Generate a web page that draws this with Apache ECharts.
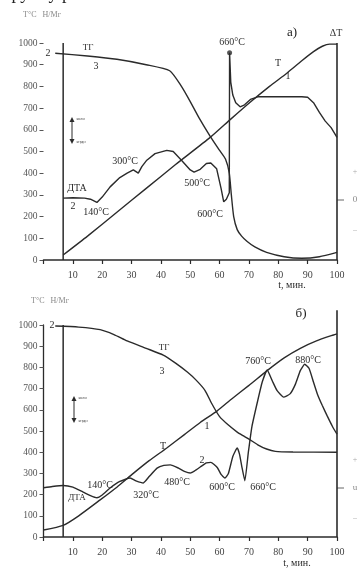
<!DOCTYPE html>
<html>
<head>
<meta charset="utf-8">
<script src="https://cdn.jsdelivr.net/npm/echarts@6/dist/echarts.min.js"></script>
<style>
html, body { margin: 0; padding: 0; background: #fff; }
#chart { width: 361px; height: 568px; }
</style>
</head>
<body>
<div id="chart"></div>
<script>
// ============================================
// ДТА / ТГ кривые, два образца (а, б)
// ============================================

const timeTicks = [10, 20, 30, 40, 50, 60, 70, 80, 90, 100];
const tempTicks = [0, 100, 200, 300, 400, 500, 600, 700, 800, 900, 1000];

// panel a) — [t, value]
const tempA = [[6.7, 23], [15, 110], [25, 220], [35, 330], [45, 440], [56.8, 565], [63.7, 648], [70.5, 728], [77, 800], [83, 862], [88, 918], [92, 960], [95, 985], [97.5, 995], [100, 995]];
const tgA = [[4, 953], [15, 940], [25, 925], [35, 900], [43, 872], [47, 800], [50, 730], [53, 655], [56.8, 570], [60, 505], [62, 465], [63.3, 400], [64, 300], [64.8, 200], [66, 140], [67.5, 110], [69.4, 85], [72, 60], [76, 35], [82, 15], [88, 8], [94, 15], [100, 35]];
const dtaA = [[6.7, 285], [10, 287], [14, 285], [16, 280], [18.2, 265], [20, 290], [22.7, 337], [26, 380], [28.5, 400], [30.6, 415], [32.3, 400], [33.5, 430], [35.2, 460], [38, 490], [42, 505], [44.2, 500], [47, 460], [50, 415], [51.3, 405], [53.4, 418], [55.5, 445], [57, 447], [59, 420], [60.5, 330], [61.4, 268], [62.3, 280], [63.3, 310], [63.4, 955], [63.8, 820], [64.5, 760], [65.5, 725], [67, 706], [68.5, 715], [70.5, 740], [73, 752], [80, 752], [88, 752], [90, 750], [92, 725], [94, 680], [96, 640], [98, 610], [100, 565]];
const frameA = [[6.7, 0], [6.7, 1000]];
const rightA = [[100, 0], [100, 1000]];

// panel б)
const tempB = [[0, 33], [6.7, 55], [12, 100], [19.3, 175], [25, 235], [30.6, 300], [36, 360], [42, 420], [48, 483], [53.4, 540], [59.2, 595], [64, 650], [70, 715], [76.2, 785], [82, 845], [87.5, 890], [93, 925], [98.8, 953], [100, 958]];
const tgB = [[4, 995], [12, 990], [19.3, 978], [24, 955], [28.5, 925], [35, 890], [40.8, 858], [45, 820], [49, 778], [52, 740], [55, 692], [57.5, 625], [60, 568], [63, 528], [66, 495], [68, 478], [70, 462], [73, 435], [76, 415], [79, 404], [85, 401], [100, 400]];
const dtaB = [[0, 232], [3, 238], [6.7, 243], [10, 235], [13.5, 212], [16, 195], [18.2, 185], [20, 198], [22.7, 231], [26, 262], [29.5, 278], [31.5, 265], [34, 255], [36, 285], [38.7, 325], [41, 338], [43.2, 340], [46, 325], [48, 310], [50, 302], [51.5, 312], [53.4, 330], [55.5, 350], [57, 352], [59.2, 328], [60.5, 295], [61.8, 278], [63, 300], [64.5, 380], [66, 420], [66.8, 390], [67.6, 330], [68.6, 265], [69.8, 400], [71, 520], [72.8, 632], [74.5, 730], [76.2, 788], [78, 735], [79.6, 690], [81.8, 660], [84, 675], [85.8, 720], [87.5, 785], [89, 815], [90.5, 795], [92, 730], [93.3, 675], [95, 620], [96.7, 570], [98.5, 520], [100, 485]];
const frameB = [[6.7, 0], [6.7, 1000]];
const rightB = [[100, 0], [100, 1070]];

const INK = '#2b2b2b';
const SERIF = 'Liberation Serif';

function curve(data, idx, extra) {
    return Object.assign({
        type: 'line', data: data, xAxisIndex: idx, yAxisIndex: idx,
        showSymbol: false, clip: false, animation: false,
        lineStyle: { color: INK, width: 1.4 }
    }, extra || {});
}

function xAxisCfg(idx) {
    return {
        type: 'value', gridIndex: idx, min: 0, max: 100, interval: 10,
        axisLine: { lineStyle: { color: INK, width: 1.5 } },
        axisTick: { length: 4, lineStyle: { color: INK, width: 1.2 } },
        splitLine: { show: false },
        axisLabel: {
            color: '#444', fontFamily: SERIF, fontSize: 10, margin: 10,
            formatter: v => timeTicks.includes(v) ? String(v) : ''
        }
    };
}

function yAxisCfg(idx, showLine) {
    return {
        type: 'value', gridIndex: idx, min: tempTicks[0], max: tempTicks[tempTicks.length - 1], interval: 100,
        axisLine: { show: showLine, lineStyle: { color: INK, width: 1.3 } },
        axisTick: { length: 4, lineStyle: { color: '#555' } },
        splitLine: { show: false },
        axisLabel: { color: '#555', fontFamily: SERIF, fontSize: 9.5, margin: 6, formatter: v => String(v) }
    };
}

function txt(x, y, text, size, color, align) {
    return {
        type: 'text', x: x, y: y, silent: true,
        style: { text: text, fill: color || INK, font: (size || 11) + 'px "' + SERIF + '"', textAlign: align || 'center', textVerticalAlign: 'middle' }
    };
}

function arrows(x, y1, y2) {
    return [
        { type: 'line', shape: { x1: x, y1: y1 + 4, x2: x, y2: y2 - 4 }, style: { stroke: INK, lineWidth: 1 } },
        { type: 'polygon', shape: { points: [[x - 2.5, y1 + 5], [x + 2.5, y1 + 5], [x, y1]] }, style: { fill: INK } },
        { type: 'polygon', shape: { points: [[x - 2.5, y2 - 5], [x + 2.5, y2 - 5], [x, y2]] }, style: { fill: INK } },
        txt(x + 4, y1 + 2, 'экзо', 5, '#444', 'left'),
        txt(x + 4, y2 - 2, 'эндо', 5, '#444', 'left')
    ];
}

function sideMarks(x, yMid, mid) {
    return [
        txt(x, yMid - 28, '+', 8, '#aaa'),
        { type: 'line', shape: { x1: 337, y1: yMid, x2: 344, y2: yMid }, style: { stroke: '#666', lineWidth: 1 } },
        txt(x, yMid, mid, 9, '#888'),
        txt(x, yMid + 30, '–', 8, '#aaa')
    ];
}

const peakA = dtaA.reduce((m, p) => p[1] > m[1] ? p : m);

const graphics = [
    txt(4, -6, 'группу р', 18, '#222', 'left'),
    // panel a
    txt(42, 15, 'T°C   Н/Мг', 8, '#888'),
    txt(292, 33, 'а)', 13, '#222'),
    txt(336, 33, 'ΔT', 10, '#333'),
    txt(232, 42, '660°C', 10, '#333'),
    txt(48, 53, '2', 10),
    txt(88, 48, 'ТГ', 9),
    txt(96, 66, '3', 10),
    txt(278, 63, 'T', 10),
    txt(288, 76, '1', 10),
    txt(77, 188, 'ДТА', 10),
    txt(73, 206, '2', 10),
    txt(96, 212, '140°C', 10),
    txt(125, 161, '300°C', 10),
    txt(197, 183, '500°C', 10),
    txt(210, 214, '600°C', 10),
    txt(292, 285, 't, мин.', 10),
    ...arrows(72, 117, 144),
    ...sideMarks(355, 200, '0'),
    // panel б
    txt(50, 301, 'T°C   Н/Мг', 8, '#888'),
    txt(301, 314, 'б)', 13, '#222'),
    txt(52, 325, '2', 10),
    txt(164, 348, 'ТГ', 9),
    txt(162, 371, '3', 10),
    txt(258, 361, '760°C', 10),
    txt(308, 360, '880°C', 10),
    txt(207, 426, '1', 10),
    txt(163, 446, 'T', 10),
    txt(202, 460, '2', 10),
    txt(77, 498, 'ДТА', 9),
    txt(100, 485, '140°C', 10),
    txt(146, 495, '320°C', 10),
    txt(177, 482, '480°C', 10),
    txt(222, 487, '600°C', 10),
    txt(263, 487, '660°C', 10),
    txt(297, 563, 't, мин.', 10),
    ...arrows(74, 396, 423),
    ...sideMarks(355, 488, 'u')
];

const chart = echarts.init(document.getElementById('chart'), null, { renderer: 'canvas' });
chart.setOption({
    animation: false,
    backgroundColor: '#fff',
    grid: [
        { left: 43.5, top: 43, width: 293.5, height: 217 },
        { left: 43.5, top: 325, width: 293.5, height: 212 }
    ],
    xAxis: [xAxisCfg(0), xAxisCfg(1)],
    yAxis: [yAxisCfg(0, false), yAxisCfg(1, true)],
    series: [
        curve(frameA, 0, { lineStyle: { color: INK, width: 1.5 } }),
        curve(rightA, 0, { lineStyle: { color: INK, width: 1.6 } }),
        curve(tempA, 0, { smooth: 0.2 }),
        curve(tgA, 0, { smooth: 0.2 }),
        curve(dtaA, 0),
        { type: 'scatter', xAxisIndex: 0, yAxisIndex: 0, data: [peakA], symbolSize: 5, itemStyle: { color: INK }, animation: false },
        curve(frameB, 1, { lineStyle: { color: INK, width: 1.5 } }),
        curve(rightB, 1, { lineStyle: { color: INK, width: 1.6 } }),
        curve(tempB, 1, { smooth: 0.2 }),
        curve(tgB, 1, { smooth: 0.2 }),
        curve(dtaB, 1, { smooth: 0.15 })
    ],
    graphic: graphics
});
</script>
</body>
</html>
